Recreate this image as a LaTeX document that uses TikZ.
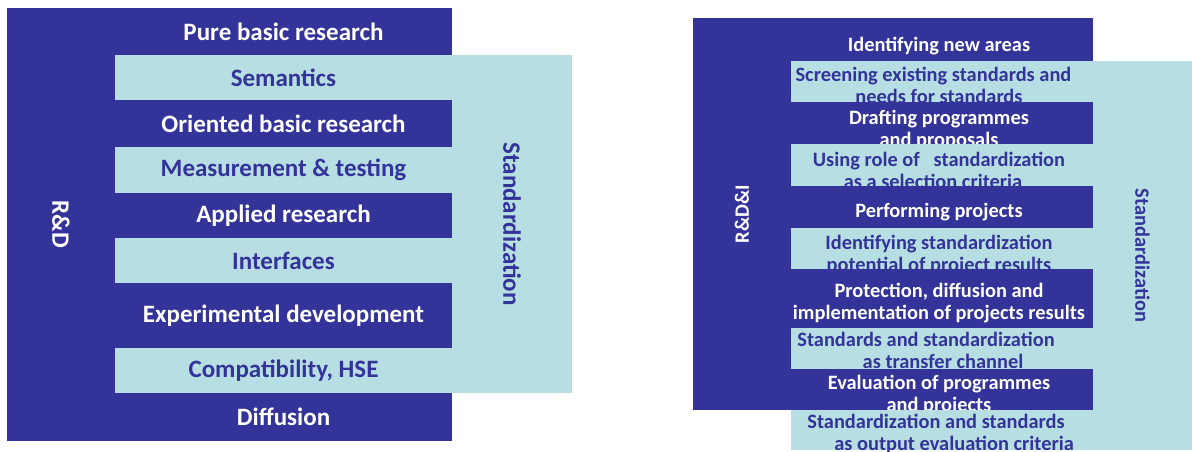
\documentclass[tikz,border=0pt]{standalone}
\usepackage{fontspec}
\setmainfont{Carlito}
\usetikzlibrary{chains,
                positioning
                }
\definecolor{rdblue}{RGB}{51,51,153}
\definecolor{stdcyan}{RGB}{183,222,226}

\begin{document}
\begin{tikzpicture}[
        x = 1pt, y = -1pt,
        node distance = 0pt,
        rdbox/.style = {fill=rdblue, text=white, inner sep=0pt, outer sep=0pt},
        stdbox/.style = {fill=stdcyan, text=rdblue, inner sep=0pt, outer sep=0pt},
        bigfont/.style = {font=\bfseries\fontsize{25}{29}\selectfont},
        smallfont/.style = {font=\bfseries\fontsize{20.4}{22}\selectfont},
        lband/.style = {bigfont, minimum width=337pt, on chain},
        rband/.style = {minimum width=302pt, on chain},
        rtext/.style = {smallfont, align=center, inner sep=0pt, xshift=-3pt},
        ondark/.style = {rtext, text=white},
        onlight/.style = {rtext, text=rdblue}
    ]
    \useasboundingbox (0,0) rectangle (1192,452);
    % R&D ladder
    \node (rd) [rdbox, bigfont, rotate=-90, minimum width=433pt, minimum height=108pt]
        at (61,224.5) {R\&D};
    \node (std) [stdbox, bigfont, rotate=-90, minimum width=338pt, minimum height=120pt]
        at (512,224) {Standardization};
    \begin{scope}[start chain=lchain going below]
        \node (l1) [rdbox, lband, minimum height=47pt] at (283.5,31.5) {Pure basic research};
        \node (l2) [stdbox, lband, minimum height=45pt] {Semantics};
        \node (l3) [rdbox, lband, minimum height=47pt] {Oriented basic research};
        \node (l4) [stdbox, lband, minimum height=46pt] {Measurement \& testing};
        \node (l5) [rdbox, lband, minimum height=45pt] {Applied research};
        \node (l6) [stdbox, lband, minimum height=45pt] {Interfaces};
        \node (l7) [rdbox, lband, minimum height=65pt] {Experimental development};
        \node (l8) [stdbox, lband, minimum height=45pt] {Compatibility, HSE};
        \node (l9) [rdbox, lband, minimum height=48pt] {Diffusion};
    \end{scope}
    % R&D&I ladder
    \node (rdi) [rdbox, smallfont, rotate=90, minimum width=392pt, minimum height=98pt]
        at (742,214) {R\&D\&I};
    \node (rstd) [stdbox, smallfont, rotate=-90, minimum width=389pt, minimum height=99pt]
        at (1142.5,255.5) {Standardization};
    \begin{scope}[start chain=rchain going below]
        \node (r1) [rdbox, rband, minimum height=43pt] at (942,39.5) {};
        \node (t1) [ondark, below=19pt of r1.north] {Identifying new areas};
        \node (r2) [stdbox, rband, minimum height=41pt] {};
        \node (t2) [onlight, below=6pt of r2.north] {
            Screening existing standards and\hspace*{11pt}\\
            needs for standards
        };
        \node (r3) [rdbox, rband, minimum height=42pt] {};
        \node (t3) [ondark, below=8pt of r3.north] {
            Drafting programmes\\
            and proposals
        };
        \node (r4) [stdbox, rband, minimum height=42pt] {};
        \node (t4) [onlight, below=8pt of r4.north] {
            Using role of~~~standardization\\
            as a selection criteria\hspace*{12pt}
        };
        \node (r5) [rdbox, rband, minimum height=42pt] {};
        \node (t5) [ondark, below=17pt of r5.north] {Performing projects};
        \node (r6) [stdbox, rband, minimum height=41pt] {};
        \node (t6) [onlight, below=7pt of r6.north] {
            Identifying standardization\\
            potential of project results
        };
        \node (r7) [rdbox, rband, minimum height=59pt] {};
        \node (t7) [ondark, below=14pt of r7.north] {
            Protection, diffusion and\\
            implementation of projects results
        };
        \node (r8) [stdbox, rband, minimum height=41pt] {};
        \node (t8) [onlight, below=4pt of r8.north] {
            Standards and standardization\hspace*{26pt}\\
            \hspace*{8pt}as transfer channel
        };
        \node (r9) [rdbox, rband, minimum height=41pt] {};
        \node (t9) [ondark, below=6pt of r9.north] {
            Evaluation of programmes\\
            and projects
        };
        \node (r10) [stdbox, rband, minimum height=40pt] {};
        \node (t10) [onlight, below=4pt of r10.north] {
            Standardization and standards\hspace*{6pt}\\
            \hspace*{30pt}as output evaluation criteria
        };
    \end{scope}
\end{tikzpicture}
\end{document}
